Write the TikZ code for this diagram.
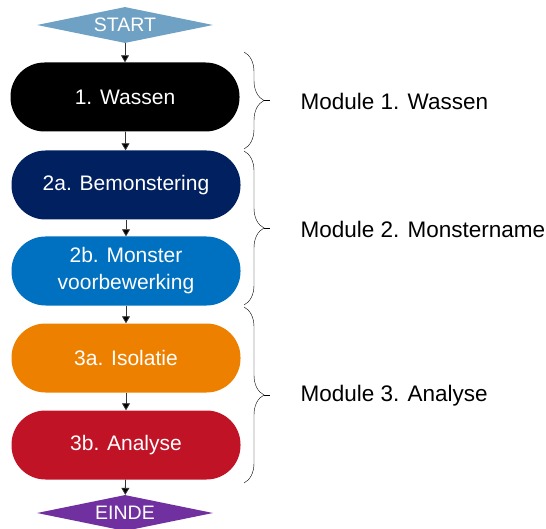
\documentclass[tikz,border=0pt]{standalone}
\usepackage{fontspec}
\setmainfont{Liberation Sans}
\usetikzlibrary{arrows.meta,shapes.geometric,decorations.pathreplacing}
\definecolor{startblue}{RGB}{111,161,196}
\definecolor{navy}{RGB}{0,32,96}
\definecolor{midblue}{RGB}{0,112,192}
\definecolor{isoorange}{RGB}{238,128,0}
\definecolor{anared}{RGB}{192,20,38}
\definecolor{endpurple}{RGB}{112,48,160}
\tikzset{>/.tip={Triangle[width=8pt,length=7pt]},
  stepbox/.style={rectangle, rounded corners=34pt, minimum width=229pt,
    minimum height=69pt, inner sep=0pt, align=center, text=white,
    font=\fontsize{21}{27}\selectfont},
  termbox/.style={diamond, aspect=4.9, minimum width=176pt, minimum height=36pt,
    inner sep=0pt, text=white, font=\fontsize{19.5}{22}\selectfont},
  modbrace/.style={decorate, decoration={brace, amplitude=20pt}, thin},
  modlabel/.style={anchor=west, font=\fontsize{22.5}{26}\selectfont}}

\begin{document}
\begin{tikzpicture}[x=1pt,y=1pt]
\useasboundingbox (0,0) rectangle (546,-529);
\node[termbox, fill=startblue] (start) at (125,-25) {START};
\node[stepbox, fill=black] (wash) at (125,-97) {1. Wassen};
\node[stepbox, fill=navy] (sample) at (126,-185) {2a. Bemonstering};
\node[stepbox, fill=midblue] (prep) at (126,-271) {2b. Monster\\voorbewerking};
\node[stepbox, fill=isoorange] (iso) at (126,-358) {3a. Isolatie};
\node[stepbox, fill=anared] (ana) at (126,-445) {3b. Analyse};
\node[termbox, fill=endpurple] (einde) at (125,-513) {EINDE};

\path[->,draw=black!80,line width=0.8pt] (start) edge (wash)
  (wash) edge (sample)
  (sample) edge (prep)
  (prep) edge (iso)
  (iso) edge (ana)
  (ana) edge (einde);

% module braces
\coordinate (b1-top) at (244,-52);
\coordinate (b1-bot) at (244,-149);
\coordinate (b2-top) at (244,-151);
\coordinate (b2-bot) at (244,-305);
\coordinate (b3-top) at (244,-307);
\coordinate (b3-bot) at (244,-483);
\draw[modbrace] (b1-top) -- (b1-bot);
\draw[modbrace] (b2-top) -- (b2-bot);
\draw[modbrace] (b3-top) -- (b3-bot);
\coordinate (t1) at (264,-100.5);
\coordinate (t2) at (264,-228);
\coordinate (t3) at (264,-395);
\draw[thin] (t1) -- ++(6,0) (t2) -- ++(6,0) (t3) -- ++(6,0);

\node[modlabel] (mod1) at (297,-101) {Module 1. Wassen};
\node[modlabel] (mod2) at (297,-229) {Module 2. Monstername};
\node[modlabel] (mod3) at (297,-396) {Module 3. Analyse};
\end{tikzpicture}
\end{document}
